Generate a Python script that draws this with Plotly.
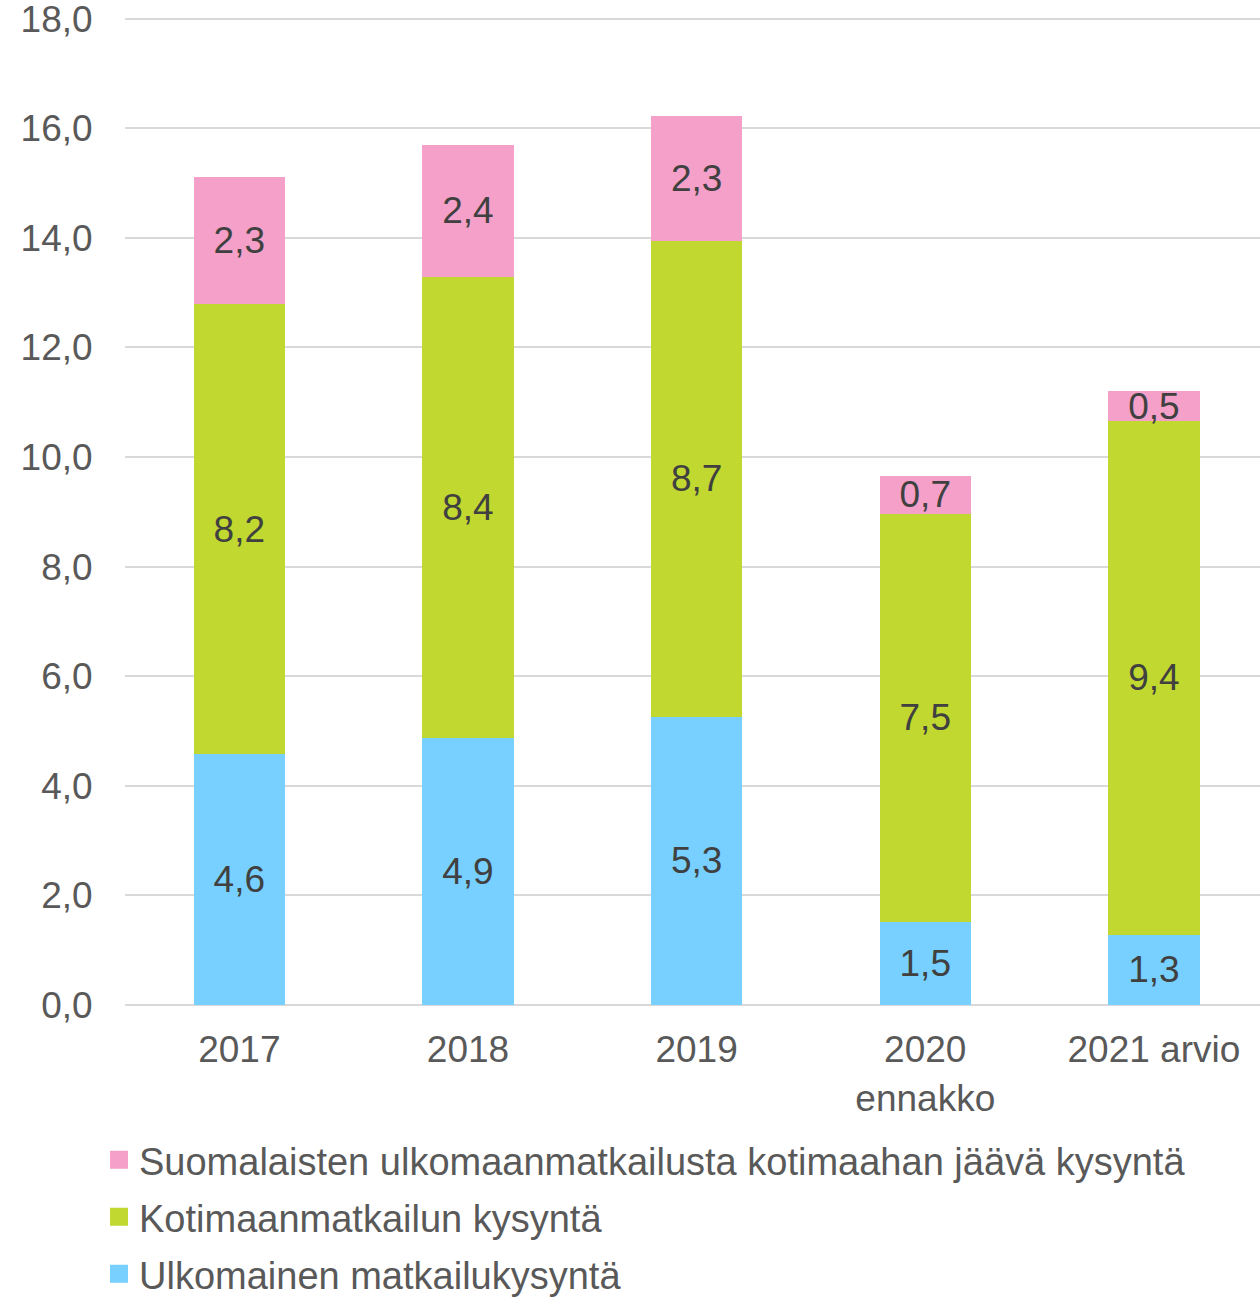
import plotly.graph_objects as go

categories = ["2017", "2018", "2019", "2020<br>ennakko", "2021 arvio"]
ulkomainen = [4.58, 4.87, 5.26, 1.51, 1.28]
kotimaan = [8.21, 8.42, 8.69, 7.46, 9.38]
suomalaisten = [2.33, 2.41, 2.28, 0.68, 0.54]

series_names = [
    "Ulkomainen matkailukysyntä",
    "Kotimaanmatkailun kysyntä",
    "Suomalaisten ulkomaanmatkailusta kotimaahan jäävä kysyntä",
]
colors = ["#77D0FF", "#C0D82F", "#F4A0C8"]
y_ticks = [0, 2, 4, 6, 8, 10, 12, 14, 16, 18]

FONT = "Liberation Sans, Arial, sans-serif"
fig = go.Figure()

for name, vals, col in zip(series_names, [ulkomainen, kotimaan, suomalaisten], colors):
    fig.add_trace(go.Bar(
        x=categories, y=vals, name=name, width=0.4,
        marker=dict(color=col, line=dict(width=0)),
        texttemplate="%{y:.1f}", textposition="inside",
        insidetextanchor="middle",
        textfont=dict(family=FONT, size=37, color="#404040"),
        showlegend=False, hoverinfo="skip",
    ))

# legend entries: blue bottom, green middle, pink top (one legend each)
legend_ids = ["legend3", "legend2", "legend"]
for name, col, lid in zip(series_names, colors, legend_ids):
    fig.add_trace(go.Scatter(
        x=[None], y=[None], mode="markers", name=name,
        marker=dict(symbol="square", size=16, color=col, line=dict(color=col, width=2)),
        legend=lid, showlegend=True,
    ))

PLOT_H = 1297 - 16 - 292
PLOT_W = 1260 - 125
def leg(ypix):
    return dict(
        x=-26 / PLOT_W, xanchor="left", y=-(ypix - 1005) / PLOT_H, yanchor="middle",
        orientation="v", font=dict(family=FONT, size=38, color="#595959"),
        itemwidth=30, bgcolor="rgba(0,0,0,0)",
    )

fig.update_layout(
    width=1260, height=1297,
    barmode="stack",
    separators=", ",
    plot_bgcolor="white", paper_bgcolor="white",
    margin=dict(l=125, r=0, t=16, b=292, autoexpand=False),
    font=dict(family=FONT, color="#595959"),
    uniformtext=dict(minsize=37, mode="show"),
    legend=leg(1160),
    legend2=leg(1217),
    legend3=leg(1274),
)
fig.update_xaxes(
    type="category", range=[-0.5, 4.464], automargin=False,
    tickfont=dict(family=FONT, size=37, color="#595959"),
    ticks="outside", ticklen=12, tickcolor="rgba(0,0,0,0)",
    showline=False, showgrid=False,
)
fig.update_yaxes(
    range=[0, 18.05], tickvals=y_ticks, tickformat=".1f", automargin=False,
    tickfont=dict(family=FONT, size=37, color="#595959"),
    ticks="outside", ticklen=24, tickcolor="rgba(0,0,0,0)",
    ticklabeloverflow="allow",
    showgrid=True, gridcolor="#D9D9D9", gridwidth=1.5,
    zeroline=True, zerolinecolor="#D9D9D9", zerolinewidth=1.5,
    showline=False,
)

fig.write_html("out.html", config={"displayModeBar": False},
               post_script="document.body.style.margin='0';")
